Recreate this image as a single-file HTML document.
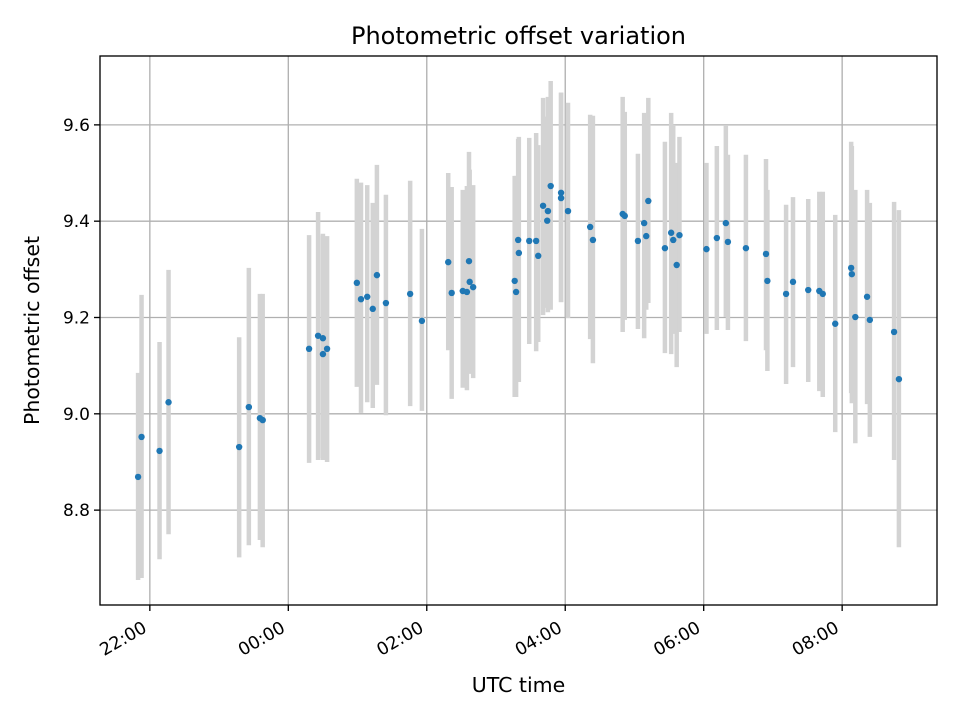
<!DOCTYPE html>
<html><head><meta charset="utf-8"><style>
body{margin:0;background:#fff}
svg text{font-family:"DejaVu Sans","Liberation Sans",sans-serif;fill:#000}
</style></head><body>
<svg id="chart" width="960" height="720" xmlns="http://www.w3.org/2000/svg">
<rect width="960" height="720" fill="#fff"/>
<g id="grid"></g><g id="bars"></g><g id="pts"></g><g id="axes"></g>
</svg>
<script>
// time in hours since 00:00 of first day (values >24 are next day)
const times=[21.83,21.88,22.14,22.27,23.29,23.43,23.59,23.63,24.30,24.43,24.50,24.50,24.56,24.99,25.05,25.14,25.22,25.28,25.41,25.76,25.93,26.31,26.36,26.52,26.58,26.61,26.62,26.67,27.27,27.29,27.32,27.33,27.48,27.58,27.61,27.68,27.75,27.74,27.79,27.94,27.94,28.04,28.36,28.40,28.83,28.86,29.05,29.14,29.17,29.20,29.44,29.53,29.56,29.61,29.65,30.04,30.19,30.32,30.35,30.61,30.90,30.92,31.19,31.29,31.51,31.67,31.72,31.90,32.13,32.14,32.19,32.36,32.40,32.75,32.82];
const offsets=[8.869,8.952,8.923,9.024,8.931,9.014,8.991,8.987,9.135,9.162,9.157,9.124,9.135,9.272,9.238,9.243,9.218,9.288,9.230,9.249,9.193,9.315,9.251,9.255,9.253,9.317,9.274,9.263,9.276,9.253,9.361,9.334,9.359,9.359,9.328,9.432,9.421,9.401,9.473,9.459,9.448,9.421,9.388,9.361,9.415,9.411,9.359,9.396,9.369,9.442,9.344,9.376,9.361,9.309,9.371,9.342,9.365,9.396,9.357,9.344,9.332,9.276,9.249,9.274,9.257,9.255,9.249,9.187,9.303,9.290,9.201,9.243,9.195,9.170,9.072];
const errHigh=[9.085,9.247,9.149,9.299,9.159,9.303,9.249,9.249,9.371,9.419,9.374,9.370,9.369,9.488,9.480,9.475,9.438,9.517,9.455,9.484,9.384,9.500,9.471,9.465,9.473,9.544,9.507,9.475,9.494,9.494,9.571,9.575,9.573,9.583,9.558,9.656,9.658,9.617,9.691,9.667,9.667,9.646,9.621,9.619,9.658,9.627,9.540,9.625,9.610,9.656,9.565,9.625,9.600,9.521,9.575,9.521,9.556,9.598,9.538,9.538,9.529,9.465,9.434,9.450,9.446,9.461,9.461,9.413,9.565,9.556,9.465,9.465,9.438,9.440,9.423];
const errLow=[8.655,8.659,8.698,8.750,8.702,8.727,8.738,8.723,8.898,8.904,8.908,8.904,8.900,9.056,9.002,9.024,9.012,9.060,8.997,9.016,9.006,9.132,9.031,9.054,9.049,9.087,9.083,9.074,9.035,9.035,9.135,9.066,9.145,9.130,9.149,9.205,9.211,9.220,9.216,9.232,9.232,9.199,9.155,9.105,9.170,9.195,9.176,9.157,9.216,9.230,9.126,9.124,9.166,9.097,9.170,9.166,9.174,9.201,9.174,9.151,9.132,9.089,9.062,9.097,9.066,9.047,9.035,8.962,9.043,9.022,8.939,9.020,8.952,8.904,8.723];
const xTickHours=[22,24,26,28,30,32];
const xTickLabels=["22:00","00:00","02:00","04:00","06:00","08:00"];
const yTicks=[8.8,9.0,9.2,9.4,9.6];

const L=100,R=937,T=56,B=605;
const xMin=21.28,xMax=33.37,yMin=8.603,yMax=9.743;
const X=t=>L+(t-xMin)/(xMax-xMin)*(R-L);
const Y=v=>B-(v-yMin)/(yMax-yMin)*(B-T);
const NS="http://www.w3.org/2000/svg";
function mk(tag,attrs,parent){const e=document.createElementNS(NS,tag);for(const k in attrs)e.setAttribute(k,attrs[k]);parent.appendChild(e);return e;}
const grid=document.getElementById('grid'),bars=document.getElementById('bars'),pts=document.getElementById('pts'),axes=document.getElementById('axes');

xTickHours.forEach((h,i)=>{
  const x=X(h);
  const g=mk('line',{x1:x,x2:x,y1:T,y2:B,stroke:'#b0b0b0','stroke-width':1.33},grid);
  
  
  const tk=mk('line',{x1:x,x2:x,y1:B,y2:B+6,stroke:'#000','stroke-width':1.33},axes);
  
  
  const t=mk('text',{x:x-2,y:B+26,'text-anchor':'end','font-size':17.5,transform:`rotate(-30 ${x-2} ${B+26})`},axes);
  t.textContent=xTickLabels[i];
  
  
});
yTicks.forEach(v=>{
  const y=Y(v);
  const g=mk('line',{x1:L,x2:R,y1:y,y2:y,stroke:'#b0b0b0','stroke-width':1.33},grid);
  
  
  const tk=mk('line',{x1:L-6,x2:L,y1:y,y2:y,stroke:'#000','stroke-width':1.33},axes);
  
  
  const t=mk('text',{x:L-10,y:y+6,'text-anchor':'end','font-size':17},axes);
  t.textContent=v.toFixed(1);
  
  
});
times.forEach((t,i)=>{
  const x=X(t);
  const b=mk('line',{x1:x,x2:x,y1:Y(errHigh[i]),y2:Y(errLow[i]),stroke:'#d3d3d3','stroke-width':4.5},bars);
  
  
});
times.forEach((t,i)=>{
  const c=mk('circle',{cx:X(t),cy:Y(offsets[i]),r:3.2,fill:'#1f77b4'},pts);
  
  
});
const frame=mk('rect',{x:L,y:T,width:R-L,height:B-T,fill:'none',stroke:'#000','stroke-width':1.33},axes);


const title=mk('text',{x:(L+R)/2,y:44,'text-anchor':'middle','font-size':24},axes);
title.textContent='Photometric offset variation';


const xl=mk('text',{x:(L+R)/2,y:692,'text-anchor':'middle','font-size':20.5},axes);
xl.textContent='UTC time';


const yl=mk('text',{x:39,y:(T+B)/2,'text-anchor':'middle','font-size':20.5,transform:`rotate(-90 39 ${(T+B)/2})`},axes);
yl.textContent='Photometric offset';


</script>
</body></html>
